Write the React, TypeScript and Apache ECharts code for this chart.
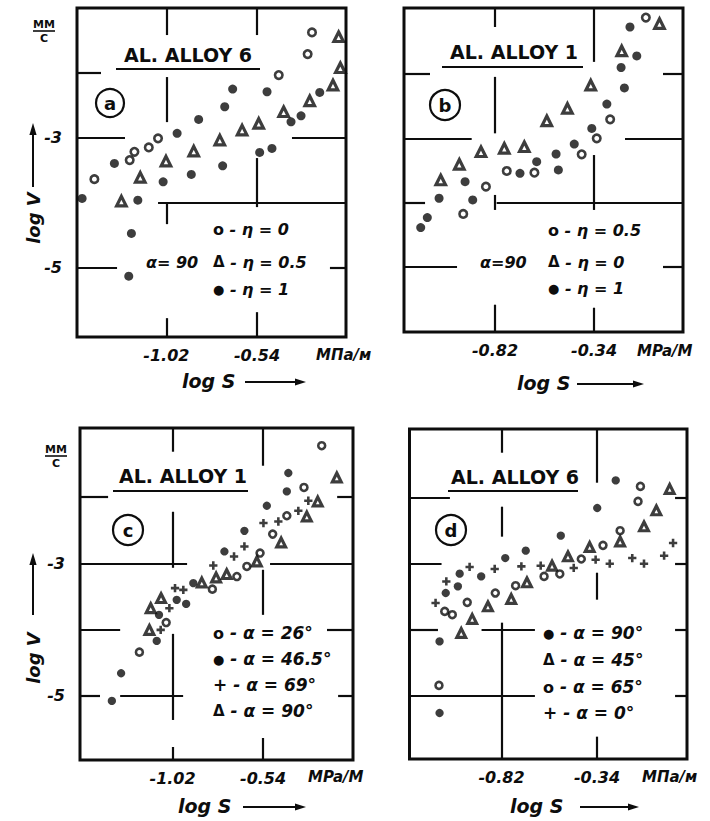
import { useEffect, useRef } from "react";
import * as echarts from "echarts";

type P = [number, number];

// ---------- Panel a: Al. alloy 6, alpha = 90 ----------
const aEta0: P[] = [
  [-1.401, -3.642], [-1.214, -3.349], [-1.189, -3.222], [-1.113, -3.154], [-1.064, -3.015],
  [-0.425, -2.042], [-0.272, -1.718], [-0.249, -1.385],
];
const aEta05: P[] = [
  [-1.258, -3.98], [-1.158, -3.615], [-1.022, -3.365], [-0.875, -3.211], [-0.737, -3.042],
  [-0.619, -2.888], [-0.531, -2.785], [-0.399, -2.606], [-0.261, -2.437], [-0.138, -2.195],
  [-0.099, -1.929], [-0.108, -1.452],
];
const aEta1: P[] = [
  [-1.466, -3.938], [-1.295, -3.4], [-0.963, -2.938], [-0.849, -2.723], [-0.711, -2.529],
  [-0.669, -2.257], [-0.487, -2.298], [-1.171, -3.965], [-1.037, -3.683], [-0.888, -3.569],
  [-0.722, -3.437], [-0.526, -3.231], [-0.461, -3.169], [-0.36, -2.76], [-0.307, -2.668],
  [-0.208, -2.308], [-1.205, -4.477], [-1.219, -5.134],
];

// ---------- Panel b: Al. alloy 1, alpha = 90 ----------
const bEta05: P[] = [
  [-0.974, -4.174], [-0.864, -3.75], [-0.763, -3.507], [-0.629, -3.533], [-0.4, -3.248],
  [-0.327, -3.0], [-0.262, -2.705], [-0.089, -1.124],
];
const bEta0: P[] = [
  [-1.083, -3.647], [-0.993, -3.403], [-0.888, -3.208], [-0.775, -3.155], [-0.678, -3.13],
  [-0.569, -2.727], [-0.469, -2.535], [-0.356, -2.174], [-0.206, -1.642], [-0.023, -1.217],
];
const bEta1: P[] = [
  [-1.18, -4.386], [-1.148, -4.231], [-1.091, -3.93], [-0.965, -3.673], [-0.928, -3.957],
  [-0.699, -3.543], [-0.618, -3.363], [-0.524, -3.243], [-0.513, -3.491], [-0.436, -3.088],
  [-0.351, -2.845], [-0.278, -2.468], [-0.193, -2.216], [-0.209, -1.899], [-0.133, -1.719],
  [-0.166, -1.27],
];

// ---------- Panel c: Al. alloy 1, several alpha ----------
const cA26: P[] = [
  [-1.196, -4.345], [-1.054, -3.897], [-0.809, -3.391], [-0.679, -3.2], [-0.626, -3.048],
  [-0.556, -2.845], [-0.489, -2.558], [-0.414, -2.28], [-0.323, -1.852], [-0.229, -1.22],
];
const cA465: P[] = [
  [-1.342, -5.083], [-1.293, -4.664], [-1.104, -4.174], [-1.092, -3.78], [-0.998, -3.553],
  [-0.948, -3.614], [-0.91, -3.3], [-0.745, -2.821], [-0.639, -2.508], [-0.52, -2.129],
  [-0.414, -1.912], [-0.406, -1.633],
];
const cA69: P[] = [
  [-1.083, -4.008], [-1.037, -3.679], [-1.007, -3.376], [-0.963, -3.402], [-0.804, -3.033],
  [-0.694, -2.897], [-0.639, -2.745], [-0.538, -2.391], [-0.459, -2.367], [-0.353, -2.205],
  [-0.3, -2.053],
];
const cA90: P[] = [
  [-1.143, -4.008], [-1.136, -3.679], [-1.081, -3.527], [-0.865, -3.291], [-0.789, -3.215],
  [-0.733, -3.164], [-0.573, -2.973], [-0.444, -2.685], [-0.308, -2.291], [-0.25, -2.064],
  [-0.149, -1.7],
];

// ---------- Panel d: Al. alloy 6, several alpha ----------
const dA90: P[] = [
  [-1.131, -4.182], [-1.1, -3.448], [-1.039, -3.347], [-1.03, -3.155], [-0.922, -3.196],
  [-0.801, -2.917], [-0.698, -2.806], [-0.522, -2.578], [-0.339, -2.158], [-0.246, -1.739],
  [-1.131, -5.269],
];
const dA45: P[] = [
  [-1.022, -4.055], [-0.967, -3.842], [-0.888, -3.651], [-0.771, -3.539], [-0.692, -3.287],
  [-0.566, -3.033], [-0.486, -2.892], [-0.377, -2.75], [-0.224, -2.665], [-0.104, -2.437],
  [-0.042, -2.194], [0.025, -1.869],
];
const dA65: P[] = [
  [-1.105, -3.727], [-1.067, -3.777], [-0.992, -3.59], [-0.851, -3.448], [-0.749, -3.337],
  [-0.606, -3.196], [-0.527, -3.159], [-0.419, -2.932], [-0.31, -2.725], [-0.224, -2.502],
  [-0.134, -2.058], [-0.122, -1.83], [-1.134, -4.85],
];
const dA0: P[] = [
  [-1.151, -3.599], [-1.097, -3.272], [-0.98, -3.053], [-0.854, -3.083], [-0.72, -3.044],
  [-0.623, -3.033], [-0.457, -3.068], [-0.347, -2.942], [-0.276, -3.003], [-0.163, -2.917],
  [-0.104, -3.003], [-0.003, -2.882], [0.042, -2.689],
];

// ---------- tick labels ----------
const xTicksAC = [-1.02, -0.54];
const xTicksBD = [-0.82, -0.34];
const yTickLabels = [-3, -5];

// ---------- broken (hand drawn) grid segments, in data units ----------
// h: [y, x1, x2]   v: [x, y1, y2]
const segA = {
  h: [[-2, -1.493, -1.366], [-3, -1.493, -1.239], [-3, -0.355, -0.069], [-4, -1.064, -0.069],
      [-5, -1.493, -1.281], [-5, -0.154, -0.069]],
  v: [[-1.02, -1.01, -1.426], [-1.02, -2.072, -2.765], [-1.02, -4.0, -4.334], [-1.02, -5.78, -6.07],
      [-0.54, -1.01, -1.426], [-0.54, -3.318, -4.072], [-0.54, -5.688, -6.07]],
};
const segB = {
  h: [[-2, -1.261, -1.135], [-2, -0.006, 0.091], [-3, -1.261, -0.933], [-3, -0.19, 0.091],
      [-4, -1.261, -1.159], [-4, -0.812, 0.091], [-5, -1.261, -1.004], [-5, -0.006, 0.091]],
  v: [[-0.82, -0.975, -1.27], [-0.82, -2.045, -2.922], [-0.82, -3.879, -4.112], [-0.82, -5.584, -6.008],
      [-0.34, -0.975, -1.812], [-0.34, -3.259, -4.112], [-0.34, -5.631, -6.008]],
};
const segC = {
  h: [[-2, -1.511, -1.362], [-2, -0.147, -0.063], [-3, -1.511, -0.943], [-3, -0.503, -0.063],
      [-4, -1.511, -1.298], [-4, -0.201, -0.063], [-5, -1.511, -1.405], [-5, -1.298, -0.964],
      [-5, -0.142, -0.063]],
  v: [[-1.02, -0.952, -1.311], [-1.02, -2.22, -3.068], [-1.02, -4.068, -5.371], [-1.02, -5.78, -5.977],
      [-0.54, -0.952, -1.523], [-0.54, -3.098, -3.78], [-0.54, -5.644, -5.977]],
};
const segD = {
  h: [[-2, -1.282, -1.079], [-2, 0.052, 0.112], [-3, -1.282, -1.121], [-3, 0.052, 0.112],
      [-4, -1.282, -1.139], [-4, -0.92, -0.652], [-4, 0.052, 0.112], [-5, -1.282, -0.652],
      [-5, 0.052, 0.112]],
  v: [[-0.82, -0.959, -1.319], [-0.82, -2.138, -2.593], [-0.82, -3.898, -5.967],
      [-0.34, -0.959, -1.774], [-0.34, -3.14, -3.549], [-0.34, -5.628, -5.967]],
};

const INK = "#0d0d0d";
const FONT = '"DejaVu Sans", "Noto Sans", sans-serif';
const PLUS = "path://M3.1,0H5.9V3.1H9V5.9H5.9V9H3.1V5.9H0V3.1H3.1Z";

type Kind = "dot" | "open" | "tri" | "plus";

function marker(kind: Kind, small = false) {
  const k = small ? 0.92 : 1;
  switch (kind) {
    case "dot":
      return { symbol: "circle", symbolSize: 9 * k, itemStyle: { color: INK } };
    case "open":
      return { symbol: "circle", symbolSize: 7.5 * k, itemStyle: { color: "#fff", borderColor: INK, borderWidth: 2.6 } };
    case "tri":
      return { symbol: "triangle", symbolSize: 9.5 * k, itemStyle: { color: "#fff", borderColor: INK, borderWidth: 3.2 } };
    default:
      return { symbol: PLUS, symbolSize: 9 * k, itemStyle: { color: INK } };
  }
}

const panels = [
  {
    rect: { left: 77, top: 8, width: 269, height: 329 }, xr: [-1.493, -0.069], yr: [-6.07, -1.01],
    xTicks: xTicksAC, yLabels: true, seg: segA, small: false,
    series: [{ data: aEta0, kind: "open" as Kind }, { data: aEta05, kind: "tri" as Kind }, { data: aEta1, kind: "dot" as Kind }],
  },
  {
    rect: { left: 404, top: 8, width: 279, height: 324 }, xr: [-1.261, 0.091], yr: [-6.008, -0.975],
    xTicks: xTicksBD, yLabels: false, seg: segB, small: false,
    series: [{ data: bEta05, kind: "open" as Kind }, { data: bEta0, kind: "tri" as Kind }, { data: bEta1, kind: "dot" as Kind }],
  },
  {
    rect: { left: 80, top: 428, width: 273, height: 332 }, xr: [-1.511, -0.063], yr: [-5.977, -0.952],
    xTicks: xTicksAC, yLabels: true, seg: segC, small: true,
    series: [{ data: cA26, kind: "open" as Kind }, { data: cA465, kind: "dot" as Kind }, { data: cA69, kind: "plus" as Kind }, { data: cA90, kind: "tri" as Kind }],
  },
  {
    rect: { left: 409.5, top: 429, width: 277.5, height: 330 }, xr: [-1.282, 0.112], yr: [-5.967, -0.959],
    xTicks: xTicksBD, yLabels: false, seg: segD, small: true,
    series: [{ data: dA90, kind: "dot" as Kind }, { data: dA45, kind: "tri" as Kind }, { data: dA65, kind: "open" as Kind }, { data: dA0, kind: "plus" as Kind }],
  },
];

const RICH = {
  o: { fontSize: 16, fill: INK, fontFamily: FONT, fontWeight: "bold" },
  t: { fontSize: 15, fill: INK, fontFamily: FONT, fontWeight: "bold" },
  d: { fontSize: 13, fill: INK, fontFamily: FONT, fontWeight: "bold" },
};

function text(x: number, y: number, t: string, size = 16, italic = true, align = "left", extra: any = {}) {
  return {
    type: "text", x, y, silent: true, ...extra,
    style: {
      text: t, fill: INK, fontSize: size, fontFamily: FONT, fontWeight: "bold",
      fontStyle: italic ? "italic" : "normal", align, verticalAlign: "middle", rich: RICH,
    },
  };
}
function line(x1: number, y1: number, x2: number, y2: number, w = 2) {
  return { type: "line", silent: true, shape: { x1, y1, x2, y2 }, style: { stroke: INK, lineWidth: w } };
}
function arrowRight(x1: number, x2: number, y: number) {
  return [
    line(x1, y, x2, y, 2),
    { type: "polygon", silent: true, shape: { points: [[x2 + 10, y], [x2 - 1, y - 3.4], [x2 - 1, y + 3.4]] }, style: { fill: INK } },
  ];
}
function arrowUp(x: number, y1: number, y2: number) {
  return [
    line(x, y1, x, y2, 2),
    { type: "polygon", silent: true, shape: { points: [[x, y2 - 11], [x - 3.6, y2 + 1], [x + 3.6, y2 + 1]] }, style: { fill: INK } },
  ];
}
function title(cx: number, cy: number, t: string, ux1: number, ux2: number, uy: number) {
  return [text(cx, cy, t, 19, false, "center"), line(ux1, uy, ux2, uy, 2.2)];
}
function badge(cx: number, cy: number, r: number, letter: string) {
  return [
    { type: "circle", silent: true, shape: { cx, cy, r }, style: { fill: "none", stroke: INK, lineWidth: 2.2 } },
    text(cx, cy, letter, 18, false, "center"),
  ];
}
function unitMM(cx: number, cy: number) {
  return [
    text(cx, cy - 6, "ММ", 11, false, "center"),
    line(cx - 11, cy + 1, cx + 11, cy + 1, 1.6),
    text(cx, cy + 8, "С", 11, false, "center"),
  ];
}
function logV(cx: number, arrowTop: number, arrowBottom: number, textCy: number) {
  return [
    ...arrowUp(cx, arrowBottom, arrowTop),
    text(cx, textCy, "log V", 18, true, "center", { rotation: Math.PI / 2 }),
  ];
}

const graphics: any[] = [
  // panel a
  ...unitMM(44, 30),
  ...logV(33, 134, 187, 218),
  ...title(188, 55, "AL. ALLOY 6", 116, 260, 69),
  ...badge(110, 103, 14, "a"),
  text(213, 229, "{o|o} - η = 0"),
  text(146, 262, "α= 90"),
  text(213, 262, "{t|Δ} - η = 0.5"),
  text(213, 289, "{d|●} - η = 1"),
  text(316, 355, "МПа/м", 15),
  text(182, 381, "log S", 19),
  ...arrowRight(245, 296, 382),
  // panel b
  ...title(514, 52, "AL. ALLOY 1", 442, 583, 67),
  ...badge(445, 105, 15, "b"),
  text(548, 230, "{o|o} - η = 0.5"),
  text(480, 262, "α=90"),
  text(548, 262, "{t|Δ} - η = 0"),
  text(548, 288, "{d|●} - η = 1"),
  text(637, 351, "MPa/M", 15),
  text(517, 383, "log S", 19),
  ...arrowRight(577, 634, 384),
  // panel c
  ...unitMM(56, 455),
  ...logV(33, 564, 615, 658),
  ...title(183, 476, "AL. ALLOY 1", 113, 248, 491),
  ...badge(128, 530, 15, "c"),
  text(213, 633, "{o|o} - α = 26°", 17),
  text(213, 659, "{d|●} - α = 46.5°", 17),
  text(213, 685, "+ - α = 69°", 17),
  text(213, 711, "{t|Δ} - α = 90°", 17),
  text(308, 777, "MPa/M", 15),
  text(178, 806, "log S", 19),
  ...arrowRight(243, 296, 807),
  // panel d
  ...title(515, 477, "AL. ALLOY 6", 448, 578, 491),
  ...badge(451, 530, 15, "d"),
  text(543, 633, "{d|●} - α = 90°", 17),
  text(543, 660, "{t|Δ} - α = 45°", 17),
  text(543, 687, "{o|o} - α = 65°", 17),
  text(543, 713, "+ - α = 0°", 17),
  text(642, 777, "МПа/м", 15),
  text(510, 806, "log S", 19),
  ...arrowRight(580, 629, 807),
];

function buildOption() {
  const grid: any[] = [];
  const xAxis: any[] = [];
  const yAxis: any[] = [];
  const series: any[] = [];
  const labelStyle = { color: INK, fontSize: 16, fontStyle: "italic", fontWeight: "bold", fontFamily: FONT };
  panels.forEach((p, i) => {
    grid.push({ ...p.rect, show: true, borderColor: INK, borderWidth: 3, backgroundColor: "transparent" });
    xAxis.push({
      type: "value", gridIndex: i, min: p.xr[0], max: p.xr[1],
      axisLine: { show: false }, axisTick: { show: false }, splitLine: { show: false },
      axisLabel: { ...labelStyle, customValues: p.xTicks, margin: 10, formatter: (v: number) => v.toFixed(2) },
    });
    yAxis.push({
      type: "value", gridIndex: i, min: p.yr[0], max: p.yr[1],
      axisLine: { show: false }, axisTick: { show: false }, splitLine: { show: false },
      axisLabel: p.yLabels
        ? { ...labelStyle, customValues: yTickLabels, margin: 15, formatter: (v: number) => String(v) }
        : { show: false },
    });
    const segData: any[] = [];
    p.seg.h.forEach(([y, x1, x2]) => segData.push([{ coord: [x1, y] }, { coord: [x2, y] }]));
    p.seg.v.forEach(([x, y1, y2]) => segData.push([{ coord: [x, y1] }, { coord: [x, y2] }]));
    series.push({
      type: "scatter", xAxisIndex: i, yAxisIndex: i, data: [], silent: true,
      markLine: {
        silent: true, symbol: ["none", "none"], label: { show: false },
        lineStyle: { color: INK, width: 2.2, type: "solid" }, emphasis: { disabled: true },
        data: segData,
      },
    });
    p.series.forEach((s) => {
      series.push({ type: "scatter", xAxisIndex: i, yAxisIndex: i, data: s.data, silent: true, z: 3, ...marker(s.kind, p.small) });
    });
  });
  return {
    animation: false,
    backgroundColor: "#fff",
    grid, xAxis, yAxis, series,
    graphic: { elements: graphics },
  };
}

export default function App() {
  const ref = useRef<HTMLDivElement>(null);
  useEffect(() => {
    if (!ref.current) return;
    const chart = echarts.init(ref.current, null, { renderer: "svg" });
    chart.setOption(buildOption() as any);
    return () => chart.dispose();
  }, []);
  return (
    <div
      ref={ref}
      style={{ position: "absolute", left: 0, top: 0, width: 710, height: 821, background: "#fff" }}
    />
  );
}
